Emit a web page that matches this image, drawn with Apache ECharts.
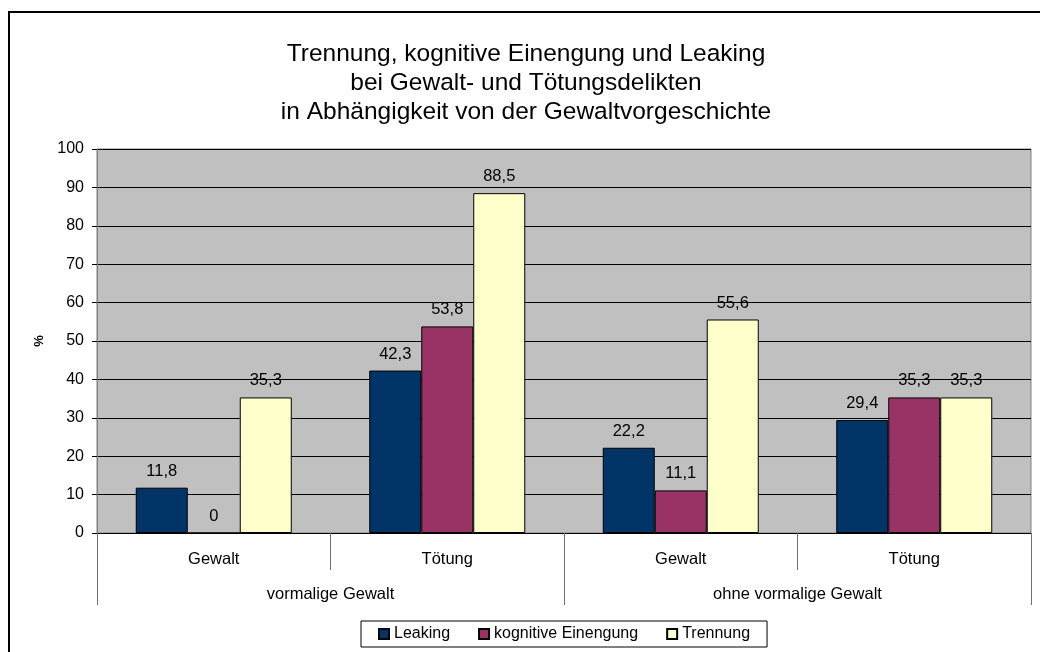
<!DOCTYPE html>
<html>
<head>
<meta charset="utf-8">
<script src="https://cdn.jsdelivr.net/npm/echarts@6/dist/echarts.min.js"></script>
<style>
  html, body { margin: 0; padding: 0; background: #fff; }
  #chart { width: 1040px; height: 652px; }
</style>
</head>
<body>
<div id="chart"></div>
<script>
const categories = ["Gewalt", "Tötung", "Gewalt", "Tötung"]
const groups = ["vormalige Gewalt", "ohne vormalige Gewalt"]
const leaking = [11.8, 42.3, 22.2, 29.4]
const einengung = [0, 53.8, 11.1, 35.3]
const trennung = [35.3, 88.5, 55.6, 35.3]

const font = "'Liberation Sans', Arial, sans-serif"
const chart = echarts.init(document.getElementById("chart"))

const barLabel = {
  show: true,
  position: "top",
  distance: 8,
  color: "#000",
  fontSize: 16.5,
  fontFamily: font,
  formatter: (p) => String(p.value).replace(".", ","),
}

function bar(name, data, color) {
  return {
    name: name,
    type: "bar",
    data: data,
    barWidth: 52,
    barGap: "0%",
    itemStyle: { color: color, borderColor: "#000", borderWidth: 1 },
    label: barLabel,
  }
}

const option = {
  animation: false,
  backgroundColor: "#fff",
  textStyle: { fontFamily: font },
  title: {
    text: "Trennung, kognitive Einengung und Leaking\nbei Gewalt- und Tötungsdelikten\nin Abhängigkeit von der Gewaltvorgeschichte",
    left: 526,
    top: 40,
    padding: 0,
    textAlign: "center",
    textStyle: {
      fontSize: 24.5,
      fontWeight: "normal",
      color: "#000",
      lineHeight: 28.7,
      fontFamily: font,
    },
  },
  legend: {
    data: ["Leaking", "kognitive Einengung", "Trennung"],
    left: 361,
    top: 621,
    padding: [5, 17, 5, 17],
    borderColor: "#000",
    borderWidth: 1,
    itemWidth: 10,
    itemHeight: 10,
    itemGap: 28,
    icon: "rect",
    textStyle: { fontSize: 16, color: "#000", fontFamily: font },
  },
  grid: {
    left: 97,
    right: 9,
    top: 149,
    bottom: 119,
    show: true,
    backgroundColor: "#C0C0C0",
    borderColor: "#808080",
    borderWidth: 1,
  },
  xAxis: [
    {
      type: "category",
      data: categories,
      position: "bottom",
      axisLine: { lineStyle: { color: "#000", width: 1 } },
      axisTick: { show: true, length: 37, interval: 0, lineStyle: { color: "#707070" } },
      axisLabel: { margin: 18, fontSize: 16.5, color: "#000", interval: 0 },
    },
    {
      type: "category",
      data: groups,
      position: "bottom",
      axisLine: { show: false },
      axisTick: { show: true, length: 72, interval: 0, lineStyle: { color: "#707070" } },
      axisLabel: { margin: 53, fontSize: 16.5, color: "#000", interval: 0 },
    },
  ],
  yAxis: {
    type: "value",
    min: 0,
    max: 100,
    interval: 10,
    name: "%",
    nameLocation: "middle",
    nameRotate: 90,
    nameGap: 51,
    nameTextStyle: { fontSize: 13, color: "#000", fontWeight: "bold" },
    axisLine: { show: true, lineStyle: { color: "#808080" } },
    axisTick: { show: true, length: 5, lineStyle: { color: "#000" } },
    axisLabel: { fontSize: 16, color: "#000", margin: 13 },
    splitLine: { show: true, lineStyle: { color: "#000", width: 1 } },
  },
  series: [
    bar("Leaking", leaking, "#003366"),
    bar("kognitive Einengung", einengung, "#993366"),
    bar("Trennung", trennung, "#FFFFCC"),
  ],
  graphic: [
    {
      type: "rect",
      shape: { x: 9, y: 12, width: 1200, height: 800 },
      style: { fill: "none", stroke: "#000", lineWidth: 2 },
      silent: true,
    },
  ],
}

chart.setOption(option)
</script>
</body>
</html>
